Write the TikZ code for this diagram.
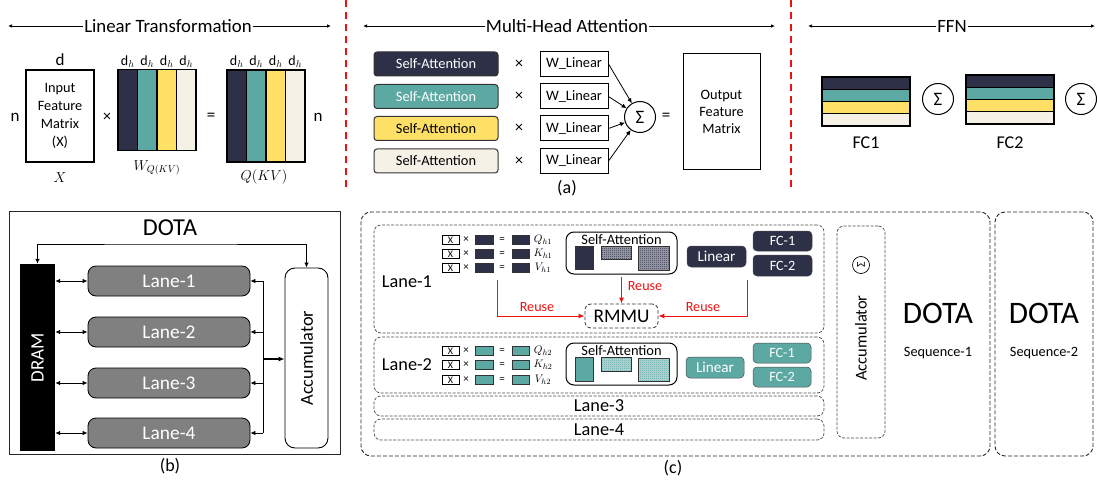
\documentclass[tikz,border=0pt]{standalone}
\usepackage{fontspec}
\setmainfont{Carlito}
\usetikzlibrary{arrows.meta,patterns,calc}

\definecolor{hnavy}{HTML}{2D3047}
\definecolor{hteal}{HTML}{5CA8A3}
\definecolor{hyellow}{HTML}{FFE066}
\definecolor{hcream}{HTML}{F5F1E6}
\definecolor{lanegray}{HTML}{808080}
\definecolor{reusered}{HTML}{F01010}
\newcommand{\fsz}[1]{\fontsize{#1}{#1}\selectfont}

% fine checkerboard used for the score matrices
\pgfdeclarepatternformonly{finecheck}{\pgfpointorigin}{\pgfpoint{2pt}{2pt}}{\pgfpoint{2pt}{2pt}}{%
  \pgfpathrectangle{\pgfpointorigin}{\pgfpoint{1pt}{1pt}}%
  \pgfpathrectangle{\pgfpoint{1pt}{1pt}}{\pgfpoint{1pt}{1pt}}%
  \pgfusepath{fill}}

\tikzset{
  ttl/.style={font=\fsz{18.8}, inner sep=1pt},
  tarrow/.style={line width=0.8pt, -{Latex[length=4pt,width=3.5pt]}},
  divider/.style={draw=reusered, line width=1.6pt, dash pattern=on 7pt off 5pt},
  col/.style={draw=black, line width=1.1pt, minimum width=19.5pt, inner sep=0pt, outer sep=0pt},
  dh/.style={font=\fsz{14}, inner sep=0pt},
  sabox/.style={draw=black!80, line width=1pt, rounded corners=3pt, minimum width=124pt, minimum height=24pt, inner sep=0pt, font=\fsz{14.4}},
  wlbox/.style={draw=black, line width=1pt, minimum width=68pt, minimum height=25pt, inner sep=0pt, font=\fsz{14.4}},
  sumc/.style={draw=black, line width=1pt, circle, minimum size=31pt, inner sep=0pt, font=\fsz{19}},
  fcrow/.style={draw=black, line width=1.1pt, minimum width=88pt, minimum height=12.25pt, inner sep=0pt, outer sep=0pt},
  arr/.style={line width=0.8pt, -{Latex[length=5pt,width=4.5pt]}},
  dbl/.style={line width=0.9pt, {Latex[length=5pt,width=4.5pt]}-{Latex[length=5pt,width=4.5pt]}},
  laneb/.style={draw=black, line width=0.8pt, fill=lanegray, rounded corners=8pt, minimum width=162pt, minimum height=30pt, inner sep=0pt, text=white, font=\fsz{19.4}},
  dframe/.style={draw=black!85, line width=0.9pt, dash pattern=on 4pt off 2pt, rounded corners=10pt, inner sep=0pt},
  dlane/.style={draw=black!70, line width=0.7pt, dash pattern=on 3pt off 1.5pt, rounded corners=7pt, minimum width=450pt, inner sep=0pt},
  xbox/.style={draw=black, line width=0.6pt, minimum width=17pt, minimum height=9pt, inner sep=0pt, font=\fsz{10}},
  sq/.style={draw=black!80, line width=0.5pt, minimum width=18pt, minimum height=9pt, inner sep=0pt},
  small/.style={font=\fsz{11}, inner sep=0pt},
  sainner/.style={draw=black, line width=1pt, rounded corners=8pt, minimum width=111pt, minimum height=42pt, inner sep=0pt},
  dotted box/.style={draw=black!80, line width=0.5pt, inner sep=0pt, preaction={fill=#1!45}, pattern=finecheck, pattern color=#1},
  opbox/.style={rounded corners=4pt, draw=black!70, line width=0.5pt, inner sep=0pt, text=white},
  reuse/.style={draw=reusered, line width=1pt, -{Latex[length=6pt,width=5pt]}},
  reuselab/.style={text=reusered, font=\fsz{14.1}, inner sep=0pt},
}

\begin{document}
\begin{tikzpicture}[x=1pt,y=-1pt]
\useasboundingbox (0,0) rectangle (1097,481);

% ---------------- Linear transformation ----------------
\coordinate (ltL) at (8,26);
\coordinate (ltR) at (331,26);
\node[ttl] (ltt) at (168,26) {Linear Transformation};
\draw[tarrow] (ltt.west) -- (ltL);
\draw[tarrow] (ltt.east) -- (ltR);

\node[font=\fsz{17}, inner sep=0pt] (dlab) at (60,60) {d};
\node[draw=black, line width=1.1pt, minimum width=68pt, minimum height=92pt, inner sep=0pt,
      align=center, font=\fontsize{14.3}{18}\selectfont] (inX) at (60,116) {Input\\Feature\\Matrix\\(X)};
\node[font=\fsz{17}, inner sep=0pt] (nL) at (15,117) {n};
\node[font=\fsz{14}, inner sep=0pt] (xlab) at (60,178) {$X$};
\node[font=\fsz{16}, inner sep=0pt] (tm0) at (107,117) {×};

\foreach \i/\c in {0/hnavy,1/hteal,2/hyellow,3/hcream}{
  \node[col, fill=\c, minimum height=81pt] (w\i) at (127.75+19.5*\i,110) {};
  \node[dh] (wd\i) at (127.75+19.5*\i,62) {$\mathrm{d}_h$};
  \node[col, fill=\c, minimum height=92pt] (q\i) at (236.75+19.5*\i,116) {};
  \node[dh] (qd\i) at (236.75+19.5*\i,62) {$\mathrm{d}_h$};
}
\node[font=\fsz{14}, inner sep=0pt] (wlab) at (157,168) {$W_{Q(KV)}$};
\node[font=\fsz{17}, inner sep=0pt] (eq0) at (211,117) {=};
\node[font=\fsz{14}, inner sep=0pt] (qlab) at (264,177) {$Q(KV)$};
\node[font=\fsz{17}, inner sep=0pt] (nR) at (318,117) {n};

\draw[divider] (346,0) -- (346,190);
\draw[divider] (791,0) -- (791,190);

% ---------------- Multi-head attention ----------------
\coordinate (mhL) at (363,26);
\coordinate (mhR) at (775,26);
\node[ttl] (mht) at (567,26) {Multi-Head Attention};
\draw[tarrow] (mht.west) -- (mhL);
\draw[tarrow] (mht.east) -- (mhR);

\node[sumc] (sig) at (640,117) {Σ};
\foreach \i/\yy/\c/\t in {1/64/hnavy/white,2/96.5/hteal/white,3/128.5/hyellow/black,4/161/hcream/black}{
  \node[sabox, fill=\c, text=\t] (sa\i) at (436,\yy) {Self-Attention};
  \node[font=\fsz{16}, inner sep=0pt] (mx\i) at (519,\yy) {×};
  \node[wlbox] (wl\i) at (574,\yy) {W\_Linear};
  \draw[arr] (wl\i.east) -- (sig);
}
\node[font=\fsz{17}, inner sep=0pt] (eq1) at (666,117) {=};
\node[draw=black, line width=1pt, minimum width=77pt, minimum height=116pt, inner sep=0pt,
      align=center, font=\fontsize{14.3}{17}\selectfont] (outm) at (721.5,112) {Output\\Feature\\Matrix};
\node[font=\fsz{18}, inner sep=0pt] (alab) at (567,188) {(a)};

% ---------------- FFN ----------------
\coordinate (ffL) at (808,26);
\coordinate (ffR) at (1095,26);
\node[ttl] (fft) at (952,26) {FFN};
\draw[tarrow] (fft.west) -- (ffL);
\draw[tarrow] (fft.east) -- (ffR);

\foreach \i/\c in {0/hnavy,1/hteal,2/hyellow,3/hcream}{
  \node[fcrow, fill=\c] (fa\i) at (866,83.1+12.25*\i) {};
  \node[fcrow, fill=\c] (fb\i) at (1010,81.1+12.25*\i) {};
}
\node[sumc] (s1) at (938,99) {Σ};
\node[sumc] (s2) at (1081,99) {Σ};
\node[font=\fsz{18}, inner sep=0pt] (fc1lab) at (866,143) {FC1};
\node[font=\fsz{18}, inner sep=0pt] (fc2lab) at (1010,143) {FC2};

% ---------------- (b) DOTA overview ----------------
\node[draw=black!85, line width=0.9pt, minimum width=331pt, minimum height=243pt, inner sep=0pt] (bframe) at (174.5,332.5) {};
\node[font=\fsz{24.3}, inner sep=0pt] (dotab) at (170,228) {DOTA};
\node[fill=black, minimum width=35pt, minimum height=187pt, inner sep=0pt] (dram) at (37.5,357.5) {};
\node[rotate=90, text=white, font=\fsz{19}, inner sep=0pt] (dramt) at (dram) {DRAM};
\node[draw=black, line width=0.9pt, rounded corners=10pt, minimum width=43pt, minimum height=180pt, inner sep=0pt] (accb) at (306.5,358) {};
\node[rotate=90, font=\fsz{18.3}, inner sep=0pt] (accbt) at (accb) {Accumulator};

\foreach \i/\yy in {1/281,2/332,3/383,4/433}{
  \node[laneb] (lane\i) at (169,\yy) {Lane-\i};
  \coordinate (bus\i) at (263,\yy);
  \draw[dbl] (dram.east |- lane\i) -- (lane\i.west);
  \draw[arr] (bus\i) -- (lane\i.east);
}
\draw[line width=0.9pt] (bus1) -- (bus4);
\coordinate (busm) at (263,359);
\draw[line width=1.1pt, -{Latex[length=6pt,width=5pt]}] (busm) -- (accb.west |- busm);
\coordinate (loopc) at (170,244);
\draw[dbl] (dram.north) |- (loopc) -| (accb.north);
\node[font=\fsz{18}, inner sep=0pt] (blab) at (170,466) {(b)};

% ---------------- (c) lane detail ----------------
\node[dframe, minimum width=629pt, minimum height=244pt] (cframe) at (675.5,334) {};
\node[dframe, minimum width=98pt, minimum height=244pt] (seq2) at (1044,334) {};
\node[dlane, minimum height=108pt] (cl1) at (599,279) {};
\node[dlane, minimum height=56pt] (cl2) at (599,365) {};
\node[dlane, minimum height=20pt, font=\fsz{18.3}] (cl3) at (599,406) {Lane-3};
\node[dlane, minimum height=21pt, font=\fsz{18.3}] (cl4) at (599,429.5) {Lane-4};

\node[dlane, minimum width=48pt, minimum height=212pt] (accc) at (861,332) {};
\node[rotate=90, font=\fsz{16.5}, inner sep=0pt] (accct) at (861,338) {Accumulator};
\node[rotate=90, draw=black, line width=0.7pt, circle, minimum size=17pt, inner sep=0pt, font=\fsz{12}] (accs) at (861,265) {Σ};

\node[font=\fsz{31.3}, inner sep=0pt] (dota1) at (938,313) {DOTA};
\node[font=\fsz{14.3}, inner sep=0pt] (seqa) at (938,353) {Sequence-1};
\node[font=\fsz{31.3}, inner sep=0pt] (dota2) at (1044,313) {DOTA};
\node[font=\fsz{14.3}, inner sep=0pt] (seqb) at (1044,353) {Sequence-2};

% lane 1
\node[font=\fsz{18.3}, inner sep=0pt] (l1lab) at (407,282) {Lane-1};
\foreach \r/\yy/\m in {1/240/Q,2/254/K,3/268/V}{
  \node[xbox] (xa\r) at (450.5,\yy) {X};
  \node[small] (ta\r) at (466,\yy) {×};
  \node[sq, fill=hnavy] (wa\r) at (484,\yy) {};
  \node[small] (ea\r) at (502,\yy) {=};
  \node[sq, fill=hnavy, minimum width=17pt] (ra\r) at (520.5,\yy) {};
  \node[small] (la\r) at (543,\yy) {$\m_{h1}$};
}
\node[sainner] (sa1c) at (621.5,253) {};
\node[font=\fsz{14.4}, inner sep=0pt] (sa1t) at (621.5,240) {Self-Attention};
\node[sq, fill=hnavy, minimum width=18pt, minimum height=23pt] (sa1q) at (584,257.5) {};
\node[dotted box=hnavy, minimum width=30pt, minimum height=13pt] (sa1s) at (616,252.5) {};
\node[dotted box=hnavy, minimum width=31pt, minimum height=24pt] (sa1p) at (653.5,258) {};
\node[opbox, fill=hnavy, minimum width=59pt, minimum height=21pt, font=\fsz{15.2}] (lin1) at (716.5,256.5) {Linear};
\node[opbox, fill=hnavy, minimum width=59pt, minimum height=20pt, font=\fsz{14.2}] (fc11) at (782.5,241) {FC-1};
\node[opbox, fill=hnavy, minimum width=59pt, minimum height=21pt, font=\fsz{14.2}] (fc12) at (782.5,265.5) {FC-2};

\node[draw=black!80, line width=0.8pt, dash pattern=on 3.5pt off 2pt, rounded corners=6pt,
      minimum width=73pt, minimum height=24pt, inner sep=0pt, font=\fsz{19.3}] (rmmu) at (621.5,316) {RMMU};
\coordinate (rl) at (497,280);
\coordinate (rm) at (621.5,277);
\coordinate (rr) at (747,280);
\draw[reuse] (rl) |- (rmmu.west);
\draw[reuse] (rm) -- (rmmu.north);
\draw[reuse] (rr) |- (rmmu.east);
\node[reuselab] (rul) at (537,307) {Reuse};
\node[reuselab] (rum) at (645,286) {Reuse};
\node[reuselab] (rur) at (703,307) {Reuse};

% lane 2
\node[font=\fsz{18.3}, inner sep=0pt] (l2lab) at (407,365) {Lane-2};
\foreach \r/\yy/\m in {1/351/Q,2/365/K,3/380/V}{
  \node[xbox] (xb\r) at (450.5,\yy) {X};
  \node[small] (tb\r) at (466,\yy) {×};
  \node[sq, fill=hteal] (wb\r) at (484,\yy) {};
  \node[small] (eb\r) at (502,\yy) {=};
  \node[sq, fill=hteal, minimum width=17pt] (rb\r) at (520.5,\yy) {};
  \node[small] (lb\r) at (543,\yy) {$\m_{h2}$};
}
\node[sainner] (sa2c) at (621.5,364) {};
\node[font=\fsz{14.4}, inner sep=0pt] (sa2t) at (621.5,351) {Self-Attention};
\node[sq, fill=hteal, minimum width=18pt, minimum height=24pt] (sa2q) at (584,369) {};
\node[dotted box=hteal, minimum width=30pt, minimum height=14pt] (sa2s) at (616,364) {};
\node[dotted box=hteal, minimum width=31pt, minimum height=23pt] (sa2p) at (653.5,369.5) {};
\node[opbox, fill=hteal, minimum width=58pt, minimum height=21pt, font=\fsz{15.2}] (lin2) at (715,367.5) {Linear};
\node[opbox, fill=hteal, minimum width=58pt, minimum height=20pt, font=\fsz{14.2}] (fc21) at (782,353) {FC-1};
\node[opbox, fill=hteal, minimum width=58pt, minimum height=20pt, font=\fsz{14.2}] (fc22) at (782,377) {FC-2};

\node[font=\fsz{18}, inner sep=0pt] (clab) at (673,468) {(c)};
\end{tikzpicture}
\end{document}
